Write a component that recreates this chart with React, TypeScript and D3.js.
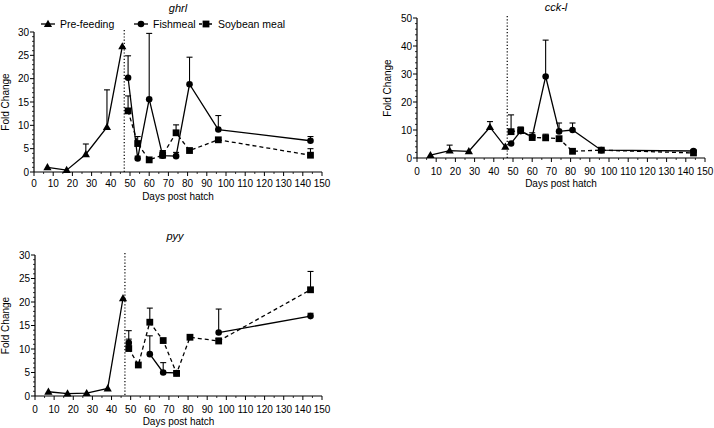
import React from 'react';
import * as d3 from 'd3';

// sampling days
const preDays = [7, 17, 27, 38, 46];
const fedDays = [49, 54, 60, 67, 74, 81, 96, 144];
const feedStartDay = 47;
const xTicks = d3.range(0, 151, 10);

// ghrl
const ghrlPre = [1.0, 0.4, 3.8, 9.6, 26.9];
const ghrlPreErr = [0, 0, 2.2, 8.0, 0];
const ghrlFish = [20.2, 2.9, 15.6, 3.5, 3.4, 18.8, 9.1, 6.7];
const ghrlFishErr = [4.7, 0.5, 14.1, 0.9, 0.8, 5.8, 3.0, 0.9];
const ghrlSoy = [13.1, 6.1, 2.6, 3.6, 8.4, 4.6, 6.9, 3.6];
const ghrlSoyErr = [3.2, 1.5, 0, 1.0, 1.7, 0, 0, 1.4];

// cck-l
const cckPre = [1.0, 2.6, 2.4, 11.0, 4.0];
const cckPreErr = [0, 2.0, 0, 2.0, 0];
const cckFish = [5.2, 9.6, 7.6, 29.1, 9.5, 10.0, 2.8, 2.5];
const cckFishErr = [0, 1.4, 1.4, 13.0, 3.0, 2.5, 0, 0.3];
const cckSoy = [9.4, 9.8, 7.3, 7.2, 6.9, 2.4, 2.8, 1.8];
const cckSoyErr = [6.0, 1.2, 0.5, 1.3, 0, 0, 0, 0.3];

// pyy
const pyyPre = [0.9, 0.5, 0.6, 1.6, 20.8];
const pyyPreErr = [0, 0, 0, 0, 0];
const pyyFish = [11.3, null, 8.9, 5.0, 4.9, null, 13.5, 17.0];
const pyyFishErr = [2.6, 0, 3.9, 2.1, 0, 0, 5.0, 0.6];
const pyySoy = [10.1, 6.6, 15.7, 11.8, 4.8, 12.5, 11.7, 22.6];
const pyySoyErr = [2.0, 0, 3.0, 0, 0.6, 0, 0.6, 3.9];

const FONT = '"Liberation Sans", Arial, sans-serif';

type Pt = { x: number; y: number | null; e: number };
const zipPts = (xs: number[], ys: (number | null)[], es: number[]): Pt[] =>
  xs.map((x, i) => ({ x, y: ys[i], e: es[i] }));

type Marker = 'tri' | 'circ' | 'sq';

const MarkerShape: React.FC<{ kind: Marker; x: number; y: number }> = ({ kind, x, y }) => {
  if (kind === 'tri') return <path d={`M${x},${y - 4.3}L${x + 4.1},${y + 2.9}L${x - 4.1},${y + 2.9}Z`} fill="#000" />;
  if (kind === 'circ') return <circle cx={x} cy={y} r={3.3} fill="#000" />;
  return <rect x={x - 3.4} y={y - 3.4} width={6.8} height={6.8} fill="#000" />;
};

interface PanelProps {
  title: string;
  left: number; right: number; top: number; bottom: number;
  yMax: number; yStep: number; yMinor: number;
  titleX: number; titleY: number;
  yLabelX: number; tickLabelY: number; xTitleY: number;
  series: { pts: Pt[]; marker: Marker; dashed: boolean }[];
}

const Panel: React.FC<PanelProps> = (p) => {
  const x = d3.scaleLinear().domain([0, 150]).range([p.left, p.right]);
  const y = d3.scaleLinear().domain([0, p.yMax]).range([p.bottom, p.top]);
  const yMajor = d3.range(0, p.yMax + 0.001, p.yStep);
  const yMinorT = d3.range(0, p.yMax + 0.001, p.yMinor).filter(v => !yMajor.some(m => Math.abs(m - v) < 1e-6));
  const xMinor = d3.range(5, 150, 10);
  const line = d3.line<Pt>().defined(d => d.y !== null).x(d => x(d.x)).y(d => y(d.y as number));

  return (
    <g fontFamily={FONT}>
      <text x={p.titleX} y={p.titleY} fontSize={11} fontStyle="italic" textAnchor="middle">{p.title}</text>
      {/* feeding start */}
      <line x1={x(feedStartDay)} x2={x(feedStartDay)} y1={p.top - 2} y2={p.bottom} stroke="#000" strokeWidth={1.2} strokeDasharray="1.2,2" />
      {/* y axis */}
      <line x1={p.left} x2={p.left} y1={p.top} y2={p.bottom} stroke="#000" strokeWidth={1.2} />
      {yMajor.map(v => (
        <g key={v}>
          <line x1={p.left - 4} x2={p.left} y1={y(v)} y2={y(v)} stroke="#000" strokeWidth={1} />
          <text x={p.left - 5} y={y(v) + 3.5} fontSize={10} textAnchor="end">{v}</text>
        </g>
      ))}
      {yMinorT.map(v => (
        <line key={v} x1={p.left - 2} x2={p.left} y1={y(v)} y2={y(v)} stroke="#000" strokeWidth={0.8} />
      ))}
      <text transform={`translate(${p.yLabelX},${(p.top + p.bottom) / 2}) rotate(-90)`} fontSize={10} textAnchor="middle">Fold Change</text>
      {/* x axis */}
      <line x1={p.left} x2={p.right} y1={p.bottom} y2={p.bottom} stroke="#000" strokeWidth={1.2} />
      {xTicks.map(v => (
        <g key={v}>
          <line x1={x(v)} x2={x(v)} y1={p.bottom} y2={p.bottom + 4} stroke="#000" strokeWidth={1} />
          <text x={x(v)} y={p.tickLabelY} fontSize={10} textAnchor="middle">{v}</text>
        </g>
      ))}
      {xMinor.map(v => (
        <line key={v} x1={x(v)} x2={x(v)} y1={p.bottom} y2={p.bottom + 2} stroke="#000" strokeWidth={0.8} />
      ))}
      <text x={(p.left + p.right) / 2} y={p.xTitleY} fontSize={10} textAnchor="middle">Days post hatch</text>
      {/* error bars */}
      {p.series.map((s, si) => s.pts.filter(d => d.y !== null && d.e > 0).map((d, i) => (
        <g key={`e${si}-${i}`} stroke="#000" strokeWidth={1.1}>
          <line x1={x(d.x)} x2={x(d.x)} y1={y(d.y as number)} y2={y((d.y as number) + d.e)} />
          <line x1={x(d.x) - 3} x2={x(d.x) + 3} y1={y((d.y as number) + d.e)} y2={y((d.y as number) + d.e)} />
        </g>
      )))}
      {/* lines */}
      {p.series.map((s, si) => (
        <path key={`l${si}`} d={line(s.pts) || ''} fill="none" stroke="#000" strokeWidth={1.3}
          strokeDasharray={s.dashed ? '4,3' : undefined} />
      ))}
      {/* markers */}
      {p.series.map((s, si) => s.pts.filter(d => d.y !== null).map((d, i) => (
        <MarkerShape key={`m${si}-${i}`} kind={s.marker} x={x(d.x)} y={y(d.y as number)} />
      )))}
    </g>
  );
};

const Legend: React.FC = () => {
  const items: { label: string; marker: Marker; dashed: boolean; mx: number }[] = [
    { label: 'Pre-feeding', marker: 'tri', dashed: false, mx: 48 },
    { label: 'Fishmeal', marker: 'circ', dashed: false, mx: 141 },
    { label: 'Soybean meal', marker: 'sq', dashed: true, mx: 206 },
  ];
  const ly = 24;
  return (
    <g fontFamily={FONT}>
      {items.map(it => (
        <g key={it.label}>
          <line x1={it.mx - 7} x2={it.mx + 7} y1={ly} y2={ly} stroke="#000" strokeWidth={1.3}
            strokeDasharray={it.dashed ? '3,2' : undefined} />
          <MarkerShape kind={it.marker} x={it.mx} y={ly} />
          <text x={it.mx + 12} y={ly + 3.5} fontSize={10.5}>{it.label}</text>
        </g>
      ))}
    </g>
  );
};

export default function App() {
  return (
    <svg width={714} height={428} style={{ position: 'absolute', left: 0, top: 0, background: '#fff' }}>
      <Panel title="ghrl" left={34} right={322} top={32} bottom={172} yMax={30} yStep={5} yMinor={1}
        titleX={178} titleY={12} yLabelX={9} tickLabelY={187} xTitleY={200}
        series={[
          { pts: zipPts(preDays, ghrlPre, ghrlPreErr), marker: 'tri', dashed: false },
          { pts: zipPts(fedDays, ghrlFish, ghrlFishErr), marker: 'circ', dashed: false },
          { pts: zipPts(fedDays, ghrlSoy, ghrlSoyErr), marker: 'sq', dashed: true },
        ]} />
      <Legend />
      <Panel title="cck-l" left={417} right={705} top={18} bottom={158} yMax={50} yStep={10} yMinor={2}
        titleX={556} titleY={11} yLabelX={391} tickLabelY={175} xTitleY={187}
        series={[
          { pts: zipPts(preDays, cckPre, cckPreErr), marker: 'tri', dashed: false },
          { pts: zipPts(fedDays, cckFish, cckFishErr), marker: 'circ', dashed: false },
          { pts: zipPts(fedDays, cckSoy, cckSoyErr), marker: 'sq', dashed: true },
        ]} />
      <Panel title="pyy" left={35} right={322} top={255} bottom={396} yMax={30} yStep={5} yMinor={1}
        titleX={175} titleY={240} yLabelX={9} tickLabelY={413} xTitleY={425}
        series={[
          { pts: zipPts(preDays, pyyPre, pyyPreErr), marker: 'tri', dashed: false },
          { pts: zipPts(fedDays, pyyFish, pyyFishErr), marker: 'circ', dashed: false },
          { pts: zipPts(fedDays, pyySoy, pyySoyErr), marker: 'sq', dashed: true },
        ]} />
    </svg>
  );
}
